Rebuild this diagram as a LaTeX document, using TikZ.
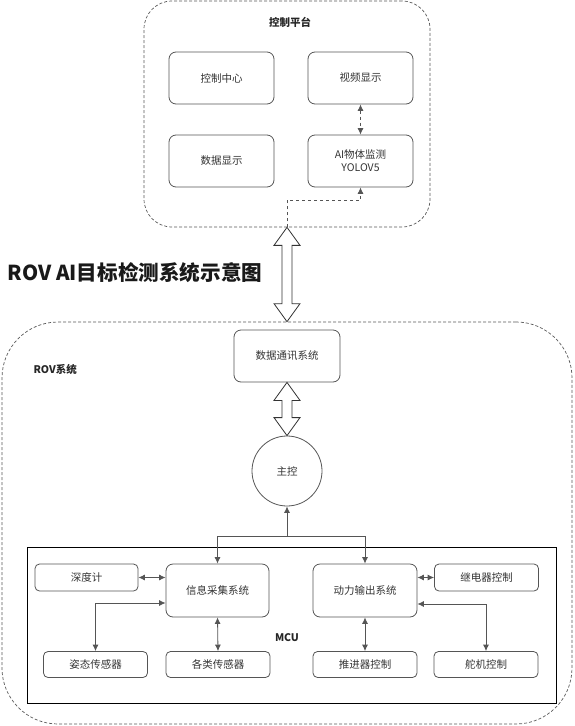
\documentclass[tikz,border=0pt]{standalone}
\usepackage{fontspec}
\setmainfont{Noto Sans CJK SC}
\usetikzlibrary{positioning,calc,arrows.meta}
\definecolor{linegray}{HTML}{555555}
\definecolor{textgray}{HTML}{333333}
\tikzset{
  box/.style={draw=linegray, line width=0.8pt, rounded corners=7pt, minimum width=105pt, minimum height=52pt, inner sep=0pt, align=center, text=textgray, font=\fontsize{10.5}{13}\selectfont},
  smallbox/.style={box, rounded corners=4.5pt, minimum width=104pt, minimum height=26pt},
  container/.style={draw=black!65, line width=0.7pt, dash pattern=on 3pt off 2pt},
  lab/.style={text=black!85, font=\fontsize{10.5}{13}\selectfont\bfseries},
  link/.style={draw=linegray, line width=0.8pt, {Latex[length=6.5pt,width=6pt]}-{Latex[length=6.5pt,width=6pt]}},
  feed/.style={draw=linegray, line width=0.8pt, -{Latex[length=6.5pt,width=6pt]}}
}
\newcommand{\hollowarrow}[2]{%
  \draw[line width=0.8pt, draw=black!80, fill=white] let \p1=(#1), \p2=(#2) in
    (\x1,\y1) -- (\x1+13pt,\y1-18pt) -- (\x1+5pt,\y1-18pt) -- (\x1+5pt,\y2+18pt)
    -- (\x1+13pt,\y2+18pt) -- (\x1,\y2) -- (\x1-13pt,\y2+18pt) -- (\x1-5pt,\y2+18pt)
    -- (\x1-5pt,\y1-18pt) -- (\x1-13pt,\y1-18pt) -- cycle;}

\begin{document}
\begin{tikzpicture}[x=1pt, y=-1pt]
  \useasboundingbox (0,0) rectangle (574,726);

  \node[container, rounded corners=28pt, minimum width=286pt, minimum height=226pt] (ctrl) at (287,114) {};
  \node[container, rounded corners=56pt, minimum width=570pt, minimum height=402pt] (rov) at (287,523) {};
  \node[draw=black, line width=0.8pt, minimum width=529pt, minimum height=156pt] (mcu) at (291.5,625) {};

  \node[lab] at (290,22) {控制平台};
  \node[lab, anchor=west] at (30,369) {ROV系统};
  \node[lab] at (287,638) {MCU};
  \node[anchor=west, text=black!90, font=\fontsize{20.6}{24}\selectfont\bfseries] (title) at (4,273) {ROV AI目标检测系统示意图};

  \node[box] (center) at (221.5,78) {控制中心};
  \node[box] (video) at (360.5,78) {视频显示};
  \node[box] (data) at (221.5,161) {数据显示};
  \node[box] (ai) at (360.5,161) {AI物体监测\\YOLOV5};

  \node[box, minimum width=106pt] (comm) at (287,356) {数据通讯系统};
  \node[circle, draw=linegray, line width=0.8pt, minimum size=70pt, inner sep=0pt, text=textgray, font=\fontsize{10.5}{13}\selectfont] (mc) at (287,471) {主控};

  \node[box, minimum width=103pt, minimum height=53pt] (info) at (217.5,590.5) {信息采集系统};
  \node[box, minimum width=104pt, minimum height=53pt] (power) at (365,590.5) {动力输出系统};
  \node[smallbox, minimum width=103pt, minimum height=27pt] (depth) at (86.5,577.5) {深度计};
  \node[smallbox, minimum height=27pt] (relay) at (486.5,577.5) {继电器控制};
  \node[smallbox] (pose) at (95.5,664.5) {姿态传感器};
  \node[smallbox] (sensors) at (218,664.5) {各类传感器};
  \node[smallbox] (thrust) at (365,664.5) {推进器控制};
  \node[smallbox] (rudder) at (486,664.5) {舵机控制};

  \draw[link, dashed] (video) -- (ai);
  \draw[feed, dashed] (ctrl.south) |- ($(ai.south)+(0,13)$) -- (ai.south);
  \hollowarrow{ctrl.south}{rov.north}
  \hollowarrow{comm.south}{mc.north}

  \coordinate (split) at (287,536);
  \draw[feed] (split) -- (mc.south);
  \draw[feed] (split) -| (info.north);
  \draw[feed] (split) -| (power.north);

  \draw[link] (depth.east) -- (depth.east -| info.west);
  \draw[link] (pose.north) |- ($(info.west)+(0,12.5)$);
  \draw[link] (info.south) -- (sensors.north);
  \draw[link] (relay.west) -- (relay.west -| power.east);
  \draw[link] (rudder.north) |- ($(power.east)+(0,13.5)$);
  \draw[link] (power.south) -- (thrust.north);
\end{tikzpicture}
\end{document}
